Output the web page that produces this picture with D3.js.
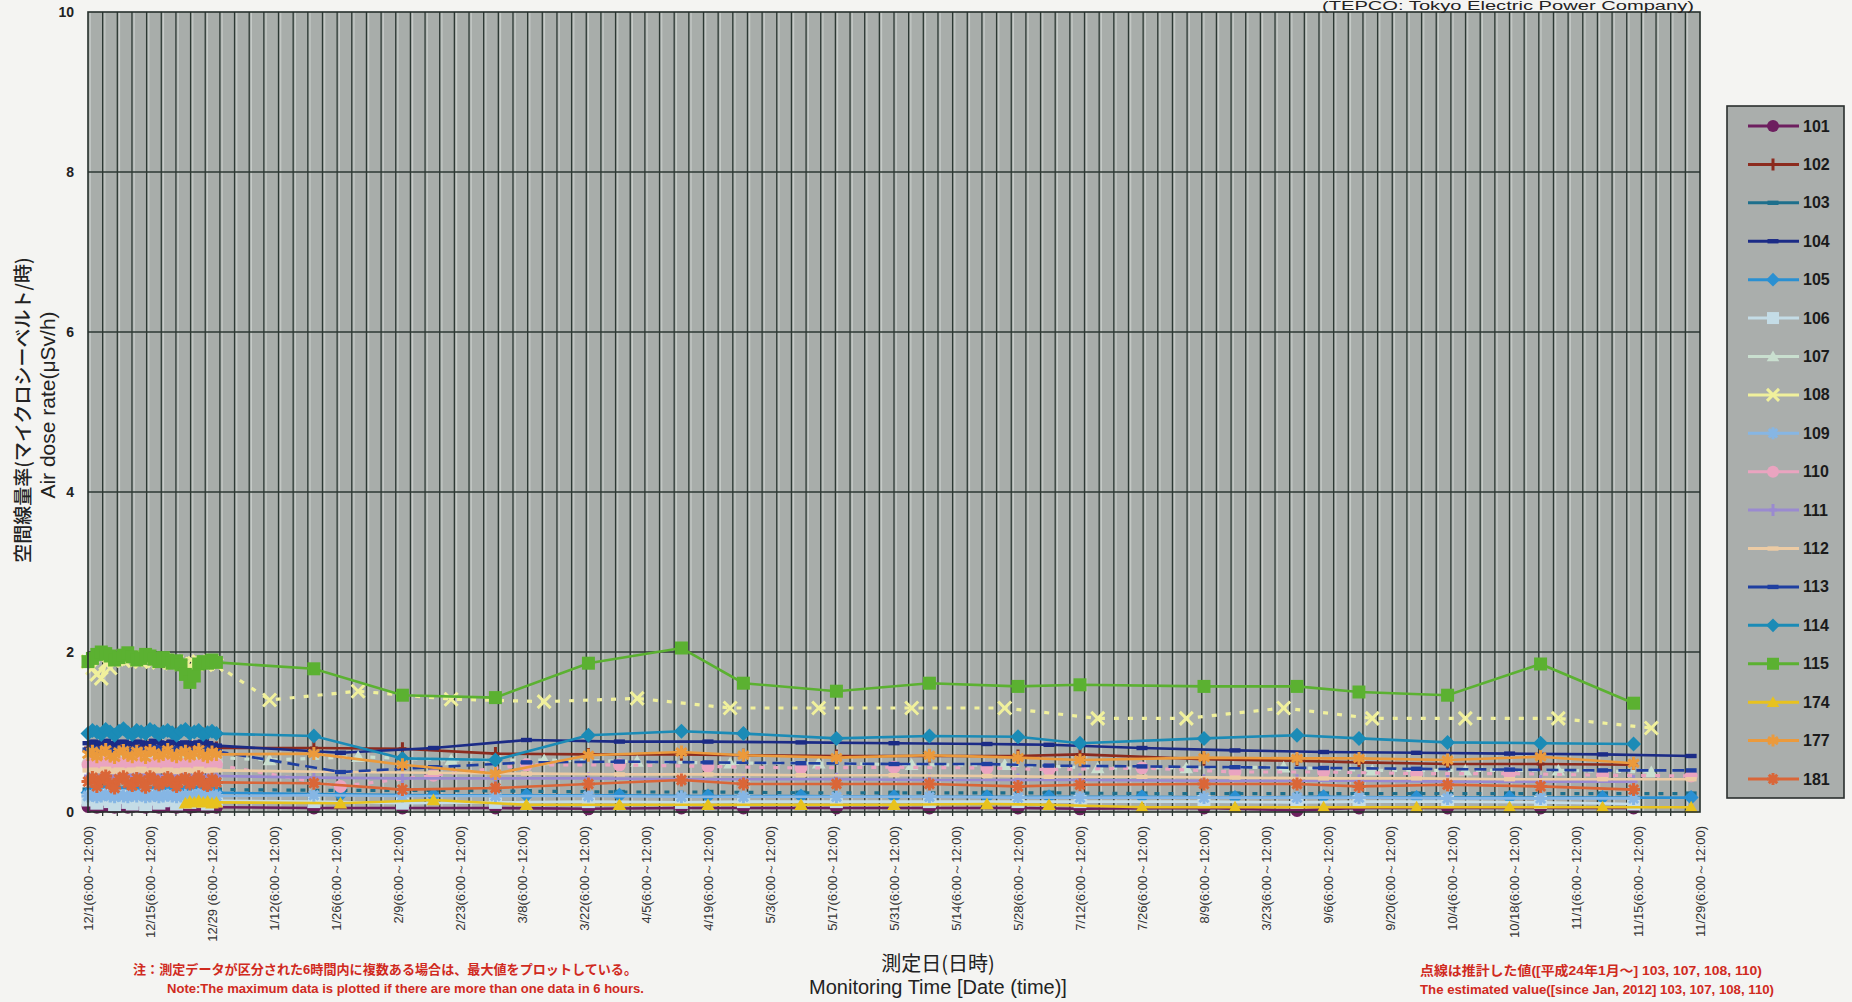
<!DOCTYPE html>
<html lang="ja">
<head>
<meta charset="utf-8" />
<title>Air dose rate</title>
<style>
  html, body { margin: 0; padding: 0; background: #f4f4f2; overflow: hidden; }
  svg { display: block; }
  .tick text { font-family: 'Liberation Sans', Arial, sans-serif; }
</style>
</head>
<body>
<div class="container"></div>
<script src="https://cdn.jsdelivr.net/npm/d3@7"></script>
<script>
// ---- tick labels (every 14 days from 12/1) ----
const tickLabels = [
  '12/1(6:00～12:00)', '12/15(6:00～12:00)', '12/29 (6:00～12:00)', '1/12(6:00～12:00)',
  '1/26(6:00～12:00)', '2/9(6:00～12:00)', '2/23(6:00～12:00)', '3/8(6:00～12:00)',
  '3/22(6:00～12:00)', '4/5(6:00～12:00)', '4/19(6:00～12:00)', '5/3(6:00～12:00)',
  '5/17(6:00～12:00)', '5/31(6:00～12:00)', '5/14(6:00～12:00)', '5/28(6:00～12:00)',
  '7/12(6:00～12:00)', '7/26(6:00～12:00)', '8/9(6:00～12:00)', '3/23(6:00～12:00)',
  '9/6(6:00～12:00)', '9/20(6:00～12:00)', '10/4(6:00～12:00)', '10/18(6:00～12:00)',
  '11/1(6:00～12:00)', '11/15(6:00～12:00)', '11/29(6:00～12:00)'
];
const tickDays = [0, 14, 28, 42, 56, 70, 84, 98, 112, 126, 140, 154, 168, 182, 196, 210, 224, 238, 252, 266, 280, 294, 308, 322, 336, 350, 364];
const yTicks = [0, 2, 4, 6, 8, 10];

// ---- measurement days (days since 12/1) ----
const denseDays = [0, 1, 2, 3, 4, 5, 6, 7, 8, 9, 10, 11, 12, 13, 14, 15, 16, 17, 18, 19, 20, 21, 22, 23, 24, 25, 26, 27, 28, 29];
const daysA = [51, 71, 92, 113, 134, 148, 169, 190, 210, 224, 252, 273, 287, 307, 328, 349];
const daysB = [41, 61, 82, 103, 124, 145, 165, 186, 207, 228, 248, 270, 290, 311, 332, 353];
const daysC = [57, 78, 99, 120, 140, 161, 182, 203, 217, 238, 259, 279, 300, 321, 342, 362];

// ---- December values (6-hour maxima, read per day) ----
const dense101 = [0.07, 0.08, 0.06, 0.07, 0.08, 0.07, 0.06, 0.07, 0.08, 0.06, 0.07, 0.08, 0.07, 0.06, 0.08, 0.07, 0.06, 0.07, 0.08, 0.07, 0.06, 0.07, 0.08, 0.06, 0.07, 0.08, 0.07, 0.06, 0.07, 0.06];
const dense102 = [0.80, 0.82, 0.79, 0.81, 0.83, 0.80, 0.78, 0.81, 0.82, 0.80, 0.79, 0.82, 0.81, 0.80, 0.83, 0.81, 0.79, 0.80, 0.82, 0.81, 0.80, 0.78, 0.81, 0.82, 0.80, 0.79, 0.81, 0.83, 0.80, 0.80];
const dense103 = [0.28, 0.29, 0.27, 0.28, 0.30, 0.28, 0.27, 0.29, 0.28, 0.27, 0.29, 0.28, 0.30, 0.27, 0.28, 0.29, 0.27, 0.28, 0.29, 0.28, 0.27, 0.28, 0.29, 0.27, 0.28, 0.30, 0.28, 0.27, 0.29, 0.28];
const dense104 = [0.86, 0.88, 0.85, 0.87, 0.89, 0.86, 0.84, 0.87, 0.88, 0.85, 0.86, 0.88, 0.87, 0.85, 0.86, 0.89, 0.87, 0.85, 0.86, 0.88, 0.86, 0.84, 0.87, 0.86, 0.85, 0.87, 0.88, 0.86, 0.84, 0.83];
const dense105 = [0.24, 0.25, 0.23, 0.24, 0.26, 0.24, 0.23, 0.25, 0.24, 0.23, 0.25, 0.24, 0.26, 0.23, 0.24, 0.25, 0.23, 0.24, 0.25, 0.24, 0.23, 0.24, 0.25, 0.23, 0.24, 0.26, 0.24, 0.23, 0.25, 0.24];
const dense106 = [0.15, 0.19, 0.11, 0.16, 0.21, 0.13, 0.09, 0.18, 0.20, 0.12, 0.10, 0.17, 0.15, 0.09, 0.20, 0.16, 0.11, 0.14, 0.19, 0.15, 0.10, 0.16, 0.18, 0.12, 0.15, 0.20, 0.13, 0.10, 0.17, 0.14];
const dense107 = [0.68, 0.70, 0.67, 0.69, 0.71, 0.68, 0.66, 0.70, 0.69, 0.67, 0.70, 0.68, 0.71, 0.67, 0.68, 0.70, 0.66, 0.69, 0.70, 0.68, 0.67, 0.69, 0.71, 0.67, 0.68, 0.70, 0.69, 0.67, 0.70, 0.68];
const dense108 = [1.88, 1.80, 1.72, 1.67, 1.86, 1.80, 1.90, 1.92, 1.89, 1.91, 1.93, 1.90, 1.88, 1.92, 1.91, 1.89, 1.87, 1.91, 1.89, 1.86, 1.88, 1.85, 1.84, 1.82, 1.86, 1.88, 1.87, 1.85, 1.88, 1.84];
const dense109 = [0.20, 0.21, 0.19, 0.20, 0.22, 0.20, 0.19, 0.21, 0.20, 0.19, 0.21, 0.20, 0.22, 0.19, 0.20, 0.21, 0.19, 0.20, 0.21, 0.20, 0.19, 0.20, 0.21, 0.19, 0.20, 0.22, 0.20, 0.19, 0.21, 0.20];
const dense110 = [0.59, 0.61, 0.57, 0.60, 0.62, 0.58, 0.56, 0.60, 0.61, 0.59, 0.57, 0.60, 0.62, 0.58, 0.59, 0.61, 0.57, 0.60, 0.59, 0.62, 0.58, 0.56, 0.60, 0.61, 0.59, 0.57, 0.60, 0.58, 0.61, 0.59];
const dense111 = [0.45, 0.46, 0.44, 0.45, 0.47, 0.45, 0.43, 0.46, 0.45, 0.44, 0.46, 0.45, 0.47, 0.44, 0.45, 0.46, 0.44, 0.45, 0.46, 0.45, 0.43, 0.45, 0.46, 0.44, 0.45, 0.47, 0.45, 0.44, 0.46, 0.45];
const dense112 = [0.52, 0.53, 0.51, 0.52, 0.54, 0.52, 0.50, 0.53, 0.52, 0.51, 0.53, 0.52, 0.54, 0.51, 0.52, 0.53, 0.51, 0.52, 0.53, 0.52, 0.50, 0.52, 0.53, 0.51, 0.52, 0.54, 0.52, 0.51, 0.53, 0.52];
const dense113 = [0.78, 0.80, 0.77, 0.79, 0.81, 0.78, 0.76, 0.79, 0.80, 0.77, 0.78, 0.80, 0.79, 0.77, 0.78, 0.81, 0.79, 0.77, 0.78, 0.80, 0.78, 0.76, 0.79, 0.78, 0.77, 0.79, 0.80, 0.78, 0.76, 0.76];
const dense114 = [0.98, 1.02, 1.00, 0.97, 1.03, 1.00, 0.96, 1.01, 1.04, 0.99, 0.97, 1.02, 1.00, 0.98, 1.03, 1.01, 0.97, 1.00, 1.02, 0.99, 0.96, 1.01, 1.03, 0.98, 1.00, 1.02, 0.97, 0.99, 1.01, 0.98];
const dense115 = [1.88, 1.92, 1.97, 2.00, 1.98, 1.95, 1.90, 1.93, 1.96, 1.99, 1.94, 1.90, 1.92, 1.97, 1.95, 1.91, 1.88, 1.93, 1.90, 1.86, 1.89, 1.84, 1.72, 1.62, 1.70, 1.85, 1.88, 1.86, 1.90, 1.87];
const dense174 = [null, null, null, null, null, null, null, null, null, null, null, null, null, null, null, null, null, null, null, null, null, null, 0.11, 0.13, 0.12, 0.14, 0.12, 0.13, 0.11, 0.12];
const dense177 = [0.72, 0.76, 0.69, 0.74, 0.78, 0.70, 0.68, 0.75, 0.77, 0.71, 0.69, 0.76, 0.73, 0.68, 0.77, 0.74, 0.70, 0.72, 0.78, 0.71, 0.69, 0.74, 0.76, 0.70, 0.73, 0.78, 0.71, 0.69, 0.75, 0.72];
const dense181 = [0.38, 0.43, 0.32, 0.40, 0.45, 0.35, 0.30, 0.41, 0.44, 0.36, 0.33, 0.42, 0.39, 0.31, 0.44, 0.40, 0.34, 0.37, 0.43, 0.38, 0.32, 0.40, 0.42, 0.35, 0.39, 0.44, 0.36, 0.33, 0.41, 0.37];

// ---- 2012 values (one reading per visit) ----
const point101 = [0.05, 0.05, 0.05, 0.04, 0.05, 0.05, 0.05, 0.05, 0.05, 0.04, 0.05, 0.02, 0.05, 0.05, 0.05, 0.05];
const point102 = [0.80, 0.79, 0.73, 0.72, 0.72, 0.71, 0.70, 0.70, 0.70, 0.72, 0.66, 0.64, 0.62, 0.60, 0.60, 0.59];
const point103 = [0.27, 0.27, 0.26, 0.25, 0.25, 0.24, 0.24, 0.24, 0.24, 0.23, 0.23, 0.23, 0.23, 0.23, 0.23, 0.23];
const point104 = [0.74, 0.80, 0.90, 0.88, 0.88, 0.87, 0.86, 0.85, 0.84, 0.80, 0.77, 0.75, 0.74, 0.73, 0.72, 0.70];
const point105 = [0.22, 0.21, 0.21, 0.21, 0.20, 0.20, 0.19, 0.19, 0.19, 0.19, 0.18, 0.19, 0.18, 0.18, 0.18, 0.18];
const point106 = [0.13, 0.11, 0.12, 0.13, 0.12, 0.13, 0.13, 0.13, 0.13, 0.13, 0.13, 0.12, 0.13, 0.13, 0.12, 0.10];
const point107 = [0.65, 0.69, 0.65, 0.65, 0.63, 0.61, 0.61, 0.59, 0.59, 0.55, 0.55, 0.56, 0.52, 0.52, 0.52, 0.50];
const point108 = [1.40, 1.51, 1.41, 1.38, 1.42, 1.30, 1.30, 1.30, 1.30, 1.17, 1.17, 1.30, 1.17, 1.17, 1.17, 1.05];
const point109 = [0.21, 0.20, 0.20, 0.20, 0.19, 0.19, 0.19, 0.19, 0.18, 0.18, 0.18, 0.18, 0.18, 0.17, 0.17, 0.17];
const point110 = [0.32, 0.46, 0.59, 0.59, 0.57, 0.55, 0.56, 0.55, 0.53, 0.55, 0.50, 0.50, 0.48, 0.48, 0.46, 0.45];
const point111 = [0.43, 0.42, 0.42, 0.42, 0.41, 0.41, 0.41, 0.40, 0.40, 0.40, 0.39, 0.39, 0.39, 0.38, 0.38, 0.38];
const point112 = [0.50, 0.49, 0.48, 0.47, 0.47, 0.46, 0.46, 0.45, 0.44, 0.44, 0.43, 0.42, 0.42, 0.41, 0.41, 0.41];
const point113 = [0.50, 0.56, 0.62, 0.63, 0.62, 0.61, 0.60, 0.60, 0.58, 0.57, 0.56, 0.55, 0.54, 0.53, 0.52, 0.52];
const point114 = [0.95, 0.67, 0.65, 0.96, 1.01, 0.98, 0.92, 0.95, 0.94, 0.86, 0.92, 0.96, 0.92, 0.87, 0.86, 0.85];
const point115 = [1.79, 1.46, 1.43, 1.86, 2.05, 1.61, 1.51, 1.61, 1.57, 1.59, 1.57, 1.57, 1.50, 1.46, 1.85, 1.36];
const point174 = [0.11, 0.15, 0.09, 0.09, 0.09, 0.09, 0.09, 0.10, 0.09, 0.06, 0.06, 0.06, 0.06, 0.06, 0.06, 0.06];
const point177 = [0.73, 0.59, 0.48, 0.71, 0.75, 0.71, 0.68, 0.71, 0.68, 0.65, 0.68, 0.67, 0.67, 0.65, 0.69, 0.61];
const point181 = [0.36, 0.28, 0.30, 0.35, 0.40, 0.35, 0.35, 0.35, 0.32, 0.34, 0.35, 0.35, 0.32, 0.34, 0.32, 0.28];

// table the drawing code walks through
const seriesTable = [
  { name: '101', dense: dense101, days: daysA, values: point101 },
  { name: '102', dense: dense102, days: daysA, values: point102 },
  { name: '103', dense: dense103, days: daysC, values: point103 },
  { name: '104', dense: dense104, days: daysC, values: point104 },
  { name: '105', dense: dense105, days: daysC, values: point105 },
  { name: '106', dense: dense106, days: daysA, values: point106 },
  { name: '107', dense: dense107, days: daysB, values: point107 },
  { name: '108', dense: dense108, days: daysB, values: point108 },
  { name: '109', dense: dense109, days: daysA, values: point109 },
  { name: '110', dense: dense110, days: daysC, values: point110 },
  { name: '111', dense: dense111, days: daysA, values: point111 },
  { name: '112', dense: dense112, days: daysC, values: point112 },
  { name: '113', dense: dense113, days: daysC, values: point113 },
  { name: '114', dense: dense114, days: daysA, values: point114 },
  { name: '115', dense: dense115, days: daysA, values: point115 },
  { name: '174', dense: dense174, days: daysC, values: point174 },
  { name: '177', dense: dense177, days: daysA, values: point177 },
  { name: '181', dense: dense181, days: daysA, values: point181 },
];

// styles: colour, marker, estimated (dotted after Jan 2012)
const styles = {
  '101': { color: '#6d1f5f', marker: 'circle' },
  '102': { color: '#8c2b1e', marker: 'plus' },
  '103': { color: '#1d6f8c', marker: 'dash', est: true },
  '104': { color: '#1b2b86', marker: 'dash' },
  '105': { color: '#2a90d2', marker: 'diamond' },
  '106': { color: '#c4dce6', marker: 'square' },
  '107': { color: '#c9dfcf', marker: 'triangle', est: true },
  '108': { color: '#f0f09c', marker: 'times', est: true },
  '109': { color: '#86b6e4', marker: 'star8' },
  '110': { color: '#eaa4c0', marker: 'circle', est: true },
  '111': { color: '#9a8ad0', marker: 'plus' },
  '112': { color: '#eccba4', marker: 'dash' },
  '113': { color: '#1f3fa0', marker: 'dash', dashed: true },
  '114': { color: '#1b8bb6', marker: 'diamond' },
  '115': { color: '#5bb131', marker: 'square' },
  '174': { color: '#e8c21e', marker: 'triangle' },
  '177': { color: '#eb9a3c', marker: 'star6' },
  '181': { color: '#da6638', marker: 'star8' },
};

function markerPath(kind, r) {
  if (kind === 'circle') return d3.symbol(d3.symbolCircle, Math.PI * r * r)();
  if (kind === 'square') return `M${-r},${-r}H${r}V${r}H${-r}Z`;
  if (kind === 'diamond') { const q = r * 1.15; return `M0,${-q}L${q},0L0,${q}L${-q},0Z`; }
  if (kind === 'triangle') return `M0,${-r}L${r * 1.05},${r * 0.8}L${-r * 1.05},${r * 0.8}Z`;
  if (kind === 'dash') return `M${-r},-2.2H${r}V2.2H${-r}Z`;
  if (kind === 'plus') return `M0,${-r}V${r}M${-r * 0.6},0H${r * 0.6}`;
  if (kind === 'times') return `M${-r},${-r}L${r},${r}M${r},${-r}L${-r},${r}`;
  const angles = kind === 'star6' ? [90, 35, 145] : [0, 45, 90, 135];
  return angles.map((a) => {
    const dx = r * Math.cos(a * Math.PI / 180), dy = r * Math.sin(a * Math.PI / 180);
    return `M${-dx},${-dy}L${dx},${dy}`;
  }).join('');
}
const strokeMarkers = new Set(['plus', 'times', 'star6', 'star8']);

const W = 1852, H = 1002;
const plotL = 88, plotR = 1700, plotT = 12, plotB = 812;

const svg = d3.select('div.container').append('svg')
  .attr('width', W).attr('height', H);

const x = d3.scaleLinear().domain([0, 364]).range([plotL, plotR]);
const y = d3.scaleLinear().domain([0, 10]).range([plotB, plotT]);
const gridX = d3.scaleLinear().domain([0, 110]).range([plotL, plotR]);

// plot area
svg.append('rect')
  .attr('x', plotL).attr('y', plotT)
  .attr('width', plotR - plotL).attr('height', plotB - plotT)
  .attr('fill', '#a8adaa');

// scanned look: a pale stripe beside each dark grid line
svg.append('g').attr('stroke', '#c6cbc8').attr('stroke-width', 1.2)
  .selectAll('line')
  .data(d3.range(0, 110))
  .join('line')
  .attr('x1', (d) => gridX(d) + 2.2).attr('x2', (d) => gridX(d) + 2.2)
  .attr('y1', plotT).attr('y2', plotB);

const grid = svg.append('g').attr('stroke', '#2c3833');
grid.selectAll('line.v')
  .data(d3.range(1, 110))
  .join('line')
  .attr('x1', (d) => gridX(d)).attr('x2', (d) => gridX(d))
  .attr('y1', plotT).attr('y2', plotB + 4)
  .attr('stroke-width', 1.3);
grid.selectAll('line.h')
  .data(yTicks.filter((d) => d > 0 && d < 10))
  .join('line')
  .attr('x1', plotL).attr('x2', plotR)
  .attr('y1', (d) => y(d)).attr('y2', (d) => y(d))
  .attr('stroke-width', 1.3);

// series
const line = d3.line().x((d) => x(d[0])).y((d) => y(d[1]));
const plot = svg.append('g');

seriesTable.forEach((s) => {
  const st = styles[s.name];
  const dense = denseDays.map((d, i) => [d, s.dense[i]]).filter((p) => p[1] != null);
  const sparse = s.days.map((d, i) => [d, s.values[i]]);
  const g = plot.append('g');
  const lw = st.marker === 'times' ? 3 : 2.6;

  g.append('path')
    .attr('d', line(dense))
    .attr('fill', 'none').attr('stroke', st.color).attr('stroke-width', lw);
  g.append('path')
    .attr('d', line([dense[dense.length - 1], ...sparse]))
    .attr('fill', 'none').attr('stroke', st.color)
    .attr('stroke-width', st.est ? 3.2 : lw)
    .attr('stroke-dasharray', st.est ? '5,9' : st.dashed ? '12,6' : null);

  const r = st.marker === 'dash' ? 5.5 : 6.5;
  const stroke = strokeMarkers.has(st.marker);
  g.selectAll('path.m')
    .data([...dense, ...sparse])
    .join('path')
    .attr('class', 'm')
    .attr('transform', (d) => `translate(${x(d[0])},${y(d[1])})`)
    .attr('d', markerPath(st.marker, r))
    .attr('fill', stroke ? 'none' : st.color)
    .attr('stroke', stroke ? st.color : 'none')
    .attr('stroke-width', stroke ? 3 : 0);
});

// frame
svg.append('rect')
  .attr('x', plotL).attr('y', plotT)
  .attr('width', plotR - plotL).attr('height', plotB - plotT)
  .attr('fill', 'none').attr('stroke', '#26302c').attr('stroke-width', 1.6);

// axes
const yAxis = svg.append('g')
  .attr('transform', `translate(${plotL},0)`)
  .call(d3.axisLeft(y).tickValues(yTicks).tickSize(0).tickPadding(14));
yAxis.select('.domain').remove();
yAxis.selectAll('text')
  .attr('font-size', 14).attr('font-weight', 'bold').attr('fill', '#222');

const xAxis = svg.append('g')
  .attr('transform', `translate(0,${plotB})`)
  .call(d3.axisBottom(x).tickValues(tickDays).tickSize(0).tickFormat((d, i) => tickLabels[i]));
xAxis.select('.domain').remove();
xAxis.selectAll('text')
  .attr('transform', 'rotate(-90)')
  .attr('text-anchor', 'end')
  .attr('x', -14).attr('y', 0).attr('dy', '0.35em')
  .attr('font-size', 13).attr('fill', '#333');

// axis titles
svg.append('text')
  .attr('transform', 'translate(30,410) rotate(-90)')
  .attr('text-anchor', 'middle')
  .attr('font-family', "'Noto Sans CJK JP', sans-serif")
  .attr('font-size', 19).attr('font-weight', 500).attr('fill', '#222')
  .text('空間線量率(マイクロシーベルト/時)');
svg.append('text')
  .attr('transform', 'translate(55,405) rotate(-90)')
  .attr('text-anchor', 'middle')
  .attr('font-family', "'Liberation Sans', Arial, sans-serif")
  .attr('font-size', 21).attr('fill', '#222')
  .text('Air dose rate(μSv/h)');

svg.append('text')
  .attr('x', 938).attr('y', 971)
  .attr('text-anchor', 'middle')
  .attr('font-family', "'Noto Sans CJK JP', sans-serif")
  .attr('font-size', 20).attr('fill', '#222')
  .text('測定日(日時)');
svg.append('text')
  .attr('x', 938).attr('y', 994)
  .attr('text-anchor', 'middle')
  .attr('font-family', "'Liberation Sans', Arial, sans-serif")
  .attr('font-size', 20).attr('fill', '#222')
  .text('Monitoring Time [Date (time)]');

svg.append('text')
  .attr('x', 1694).attr('y', 10)
  .attr('text-anchor', 'end')
  .attr('textLength', 372).attr('lengthAdjust', 'spacingAndGlyphs')
  .attr('font-family', "'Liberation Sans', Arial, sans-serif")
  .attr('font-size', 12.5).attr('fill', '#222')
  .text('(TEPCO: Tokyo Electric Power Company)');

// red notes
const red = '#d02a1e';
const notes = [
  { x: 133, y: 974, len: 504, size: 13, t: '注：測定データが区分された6時間内に複数ある場合は、最大値をプロットしている。' },
  { x: 167, y: 993, len: 477, size: 12.5, t: 'Note:The maximum data is plotted if there are more than one data in 6 hours.' },
  { x: 1420, y: 975, len: 342, size: 13, t: '点線は推計した値([平成24年1月～] 103, 107, 108, 110)' },
  { x: 1420, y: 994, len: 354, size: 12.5, t: 'The estimated value([since Jan, 2012] 103, 107, 108, 110)' },
];
svg.selectAll('text.note')
  .data(notes)
  .join('text')
  .attr('class', 'note')
  .attr('x', (d) => d.x).attr('y', (d) => d.y)
  .attr('textLength', (d) => d.len).attr('lengthAdjust', 'spacingAndGlyphs')
  .attr('font-family', "'Liberation Sans', 'Noto Sans CJK JP', sans-serif")
  .attr('font-weight', 'bold').attr('font-size', (d) => d.size)
  .attr('fill', red)
  .text((d) => d.t);

// legend
const legend = svg.append('g');
legend.append('rect')
  .attr('x', 1727).attr('y', 106).attr('width', 117).attr('height', 692)
  .attr('fill', '#aaaeac').attr('stroke', '#2a2f2d').attr('stroke-width', 1.6);
const ly = d3.scalePoint().domain(seriesTable.map((s) => s.name)).range([126, 779]);
seriesTable.forEach((s) => {
  const st = styles[s.name];
  const yy = ly(s.name);
  const stroke = strokeMarkers.has(st.marker);
  legend.append('line')
    .attr('x1', 1748).attr('x2', 1799).attr('y1', yy).attr('y2', yy)
    .attr('stroke', st.color).attr('stroke-width', 3);
  legend.append('path')
    .attr('transform', `translate(1773,${yy})`)
    .attr('d', markerPath(st.marker, st.marker === 'dash' ? 5.5 : 6))
    .attr('fill', stroke ? 'none' : st.color)
    .attr('stroke', stroke ? st.color : 'none')
    .attr('stroke-width', stroke ? 3 : 0);
  legend.append('text')
    .attr('x', 1803).attr('y', yy + 5.5)
    .attr('font-family', "'Liberation Sans Narrow', 'Liberation Sans', sans-serif")
    .attr('font-weight', 'bold').attr('font-size', 16).attr('fill', '#1a1a1a')
    .text(s.name);
});
</script>
</body>
</html>
